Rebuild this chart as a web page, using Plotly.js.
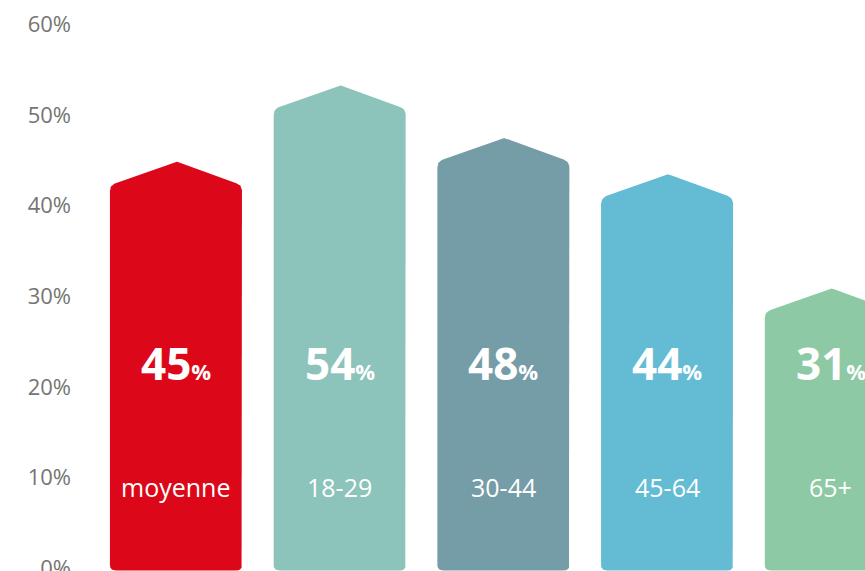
<!DOCTYPE html>
<html>
<head>
<meta charset="utf-8">
<script src="https://cdn.plot.ly/plotly-3.0.1.min.js"></script>
<style>html,body{margin:0;padding:0;background:#fff;}#chart{width:865px;height:571px;}</style>
</head>
<body>
<div id="chart"></div>
<script>
// ---- data ----
const categories = ['moyenne', '18-29', '30-44', '45-64', '65+'];
const barTops = [44.9, 53.3, 47.5, 43.5, 30.9];      // arrow tip heights (%)
const valueLabels = [45, 54, 48, 44, 31];             // printed values (%)
const colors = ['#DC0819', '#8CC3BA', '#749DA7', '#64BBD4', '#8DC9A4'];
const yTicks = [0, 10, 20, 30, 40, 50, 60];

// ---- layout geometry ----
const W = 865, H = 571, ML = 72;
const xRange = [-0.635, 4.209];
const yRange = [-0.3, 62.68];
const pxPerX = (W - ML) / (xRange[1] - xRange[0]);
const pxPerY = H / (yRange[1] - yRange[0]);
const halfW = 66 / pxPerX;          // bar half width
const arrowH = 24 / pxPerY;         // height of arrow head
const R = 6;                        // corner radius, px

function roundedPoly(verts, radii) {
  const P = verts.map(v => [v[0] * pxPerX, v[1] * pxPerY]);
  const out = [];
  const n = P.length;
  for (let i = 0; i < n; i++) {
    const prev = P[(i - 1 + n) % n], cur = P[i], next = P[(i + 1) % n];
    const r = radii[i];
    if (!r) { out.push(cur); continue; }
    const d1 = Math.hypot(prev[0] - cur[0], prev[1] - cur[1]);
    const d2 = Math.hypot(next[0] - cur[0], next[1] - cur[1]);
    const a = [cur[0] + (prev[0] - cur[0]) * r / d1, cur[1] + (prev[1] - cur[1]) * r / d1];
    const b = [cur[0] + (next[0] - cur[0]) * r / d2, cur[1] + (next[1] - cur[1]) * r / d2];
    for (let k = 0; k <= 8; k++) {
      const t = k / 8;
      out.push([
        (1 - t) * (1 - t) * a[0] + 2 * (1 - t) * t * cur[0] + t * t * b[0],
        (1 - t) * (1 - t) * a[1] + 2 * (1 - t) * t * cur[1] + t * t * b[1]
      ]);
    }
  }
  out.push(out[0]);
  return out.map(p => [p[0] / pxPerX, p[1] / pxPerY]);
}

const traces = categories.map((c, i) => {
  const top = barTops[i];
  const sh = top - arrowH;
  const base = -0.25;
  const verts = [[i - halfW, base], [i - halfW, sh], [i, top], [i + halfW, sh], [i + halfW, base]];
  const pts = roundedPoly(verts, [R, R, 2, R, R]);
  return {
    type: 'scatter', mode: 'lines', fill: 'toself',
    x: pts.map(p => p[0]), y: pts.map(p => p[1]),
    fillcolor: colors[i], line: {width: 0, color: colors[i]},
    hoverinfo: 'skip', showlegend: false, name: c
  };
});

const annotations = [];
categories.forEach((c, i) => {
  annotations.push({
    x: i, y: 22.6, xref: 'x', yref: 'y', showarrow: false,
    xanchor: 'center', yanchor: 'middle',
    text: '<b>' + valueLabels[i] + '</b><b><span style="font-size:22px">%</span></b>',
    font: {family: 'Open Sans', size: 44, color: '#ffffff'}
  });
  annotations.push({
    x: i, y: 8.95, xref: 'x', yref: 'y', showarrow: false,
    xanchor: 'center', yanchor: 'middle',
    text: c,
    font: {family: 'Open Sans', size: 25, color: '#ffffff'}
  });
});

const layout = {
  width: W, height: H,
  margin: {l: ML, r: 0, t: 0, b: 0, pad: 0},
  paper_bgcolor: '#ffffff', plot_bgcolor: '#ffffff',
  showlegend: false,
  xaxis: {range: xRange, visible: false, fixedrange: true},
  yaxis: {
    range: yRange, tickvals: yTicks, ticktext: yTicks.map(v => v + '%'),
    ticks: '', showgrid: false, zeroline: false, showline: false,
    ticklabeloverflow: 'allow',
    tickfont: {family: 'Open Sans', size: 22, color: '#757575'}, fixedrange: true
  },
  annotations: annotations
};

Plotly.newPlot('chart', traces, layout, {displayModeBar: false, staticPlot: true});
</script>
</body>
</html>
